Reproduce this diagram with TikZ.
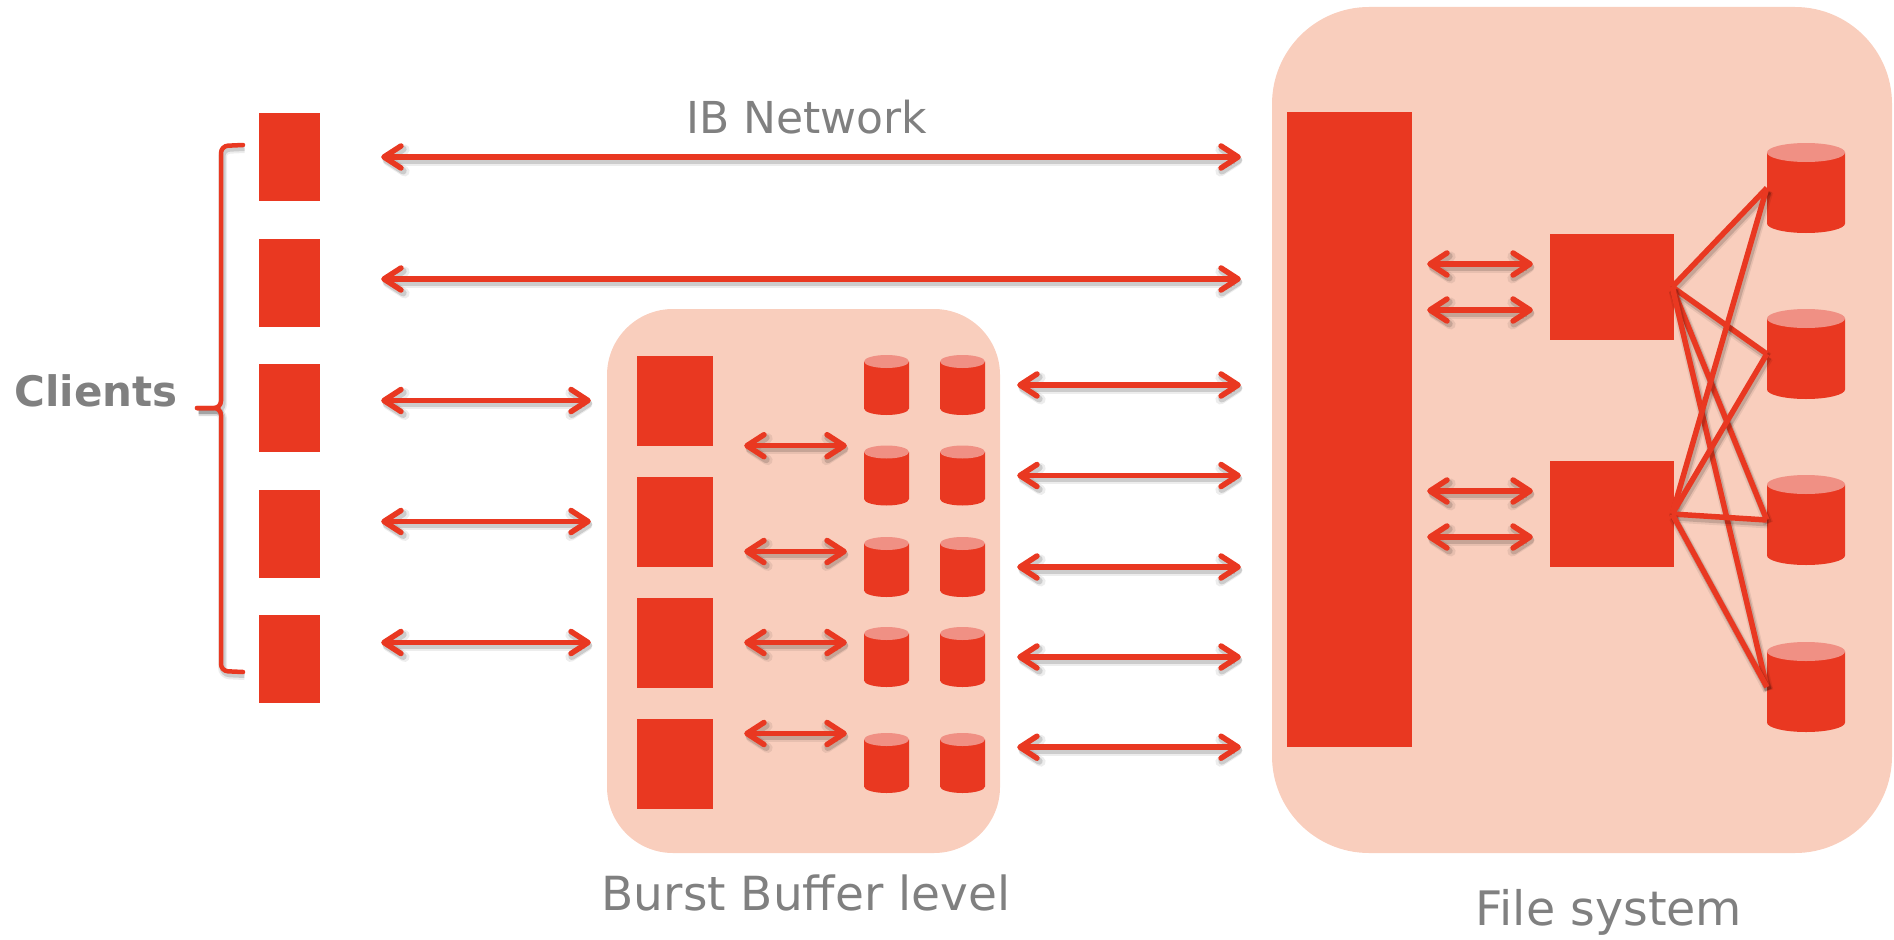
\documentclass[tikz,border=0pt]{standalone}
\usepackage{fontspec}
\setmainfont{DejaVu Sans}
\usetikzlibrary{arrows.meta,calc}

\definecolor{hpcred}{RGB}{233,56,33}
\definecolor{zonepink}{RGB}{249,206,189}
\definecolor{disktop}{RGB}{240,144,132}
\definecolor{labelgray}{RGB}{128,128,128}

\tikzset{
  barb/.tip={Straight Barb[length=17pt,width=22pt,round]},
  zone/.style={fill=zonepink, draw=none, inner sep=0pt},
  block/.style={fill=hpcred, draw=none, inner sep=0pt},
  % storage disk: width, height, radius of the end ellipses
  disk/.style n args={3}{inner sep=0pt, draw=none, minimum width=#1, minimum height=#2,
    path picture={
      \fill[hpcred] ([yshift=-#3]path picture bounding box.north west)
        -- ([yshift=#3]path picture bounding box.south west)
        arc[start angle=180, end angle=360, x radius=#1/2, y radius=#3]
        -- ([yshift=-#3]path picture bounding box.north east) -- cycle;
      \fill[disktop] ([yshift=-#3]path picture bounding box.north)
        ellipse[x radius=#1/2, y radius=#3];
    }},
  softshadow/.style={
    preaction={draw=black, draw opacity=.07, line width=#1+3pt,
      transform canvas={shift={(1.5pt,-3.5pt)}}},
    preaction={draw=black, draw opacity=.14, line width=#1,
      transform canvas={shift={(1.5pt,-3pt)}}}},
  link/.style={draw=hpcred, line width=5.5pt, softshadow=7pt},
  biarrow/.style={link, line cap=round, {barb}-{barb}},
  bracestroke/.style={draw=hpcred, line width=4.5pt, line cap=round, softshadow=6pt},
  heading/.style={text=labelgray, inner sep=0pt, anchor=base},
}

\begin{document}
\begin{tikzpicture}[x=1pt, y=-1pt]
\useasboundingbox (0,0) rectangle (1894,939);

% background zones
\node[zone, rounded corners=66pt, minimum width=393pt, minimum height=544pt] (bb) at (803.5,581) {};
\node[zone, rounded corners=97pt, minimum width=620pt, minimum height=846pt] (fs) at (1582,430) {};

% compute clients
\foreach \i/\y in {1/157, 2/282.5, 3/408, 4/533.5, 5/659}
  \node[block, minimum width=61pt, minimum height=88pt] (c\i) at (289.5,\y) {};

% burst buffer nodes
\foreach \i/\y in {1/400.5, 2/521.5, 3/642.5, 4/763.5}
  \node[block, minimum width=76pt, minimum height=90pt] (q\i) at (675,\y) {};

% burst buffer SSDs
\foreach \r/\y in {1/385, 2/475.5, 3/567, 4/657, 5/763} {
  \node[disk={45pt}{60pt}{6.5pt}] (d\r1) at (886.5,\y) {};
  \node[disk={45pt}{60pt}{6.5pt}] (d\r2) at (962.5,\y) {};
}

% file system: I/O layer, servers, disks
\node[block, minimum width=125pt, minimum height=635pt] (io) at (1349.5,429.5) {};
\node[block, minimum width=124pt, minimum height=106pt] (s1) at (1612,287) {};
\node[block, minimum width=124pt, minimum height=106pt] (s2) at (1612,514) {};
\foreach \i/\y in {1/188, 2/354, 3/520, 4/687}
  \node[disk={78pt}{90pt}{9.5pt}] (r\i) at (1806,\y) {};

% labels
\node[heading, font=\fontsize{44}{52}\selectfont] (ib) at (807,134) {IB Network};
\node[heading, font=\bfseries\fontsize{42}{50}\selectfont] (clients) at (96,406) {Clients};
\node[heading, font=\fontsize{47}{56}\selectfont] (bbl) at (806,910) {Burst Buffer level};
\node[heading, font=\fontsize{47.5}{56}\selectfont] (fsl) at (1609,925) {File system};

% clients brace
\draw[bracestroke, rounded corners=7pt] (243,145) -- (221,146) -- (221,408) -- (197,408);
\draw[bracestroke, rounded corners=7pt] (197,408) -- (221,408) -- (221,671) -- (243,672);

% clients straight to the file system
\draw[biarrow, shorten <=61pt, shorten >=31pt] (c1.east) -- (c1.east -| fs.west);
\draw[biarrow, shorten <=61pt, shorten >=31pt] ([yshift=3.5pt]c2.east) -- ([yshift=3.5pt]c2.east -| fs.west);

% clients to the burst buffer
\foreach \c/\q in {3/1, 4/2, 5/3}
  \draw[biarrow, shorten <=61pt, shorten >=16pt] (c\c.east |- q\q.west) -- (q\q.west -| bb.west);

% burst buffer nodes to their SSDs
\draw[biarrow, shorten <=31pt, shorten >=17pt] (q1.south east) -- (q1.south east -| d11.west);
\draw[biarrow, shorten <=31pt, shorten >=17pt] ([yshift=-30pt]q2.east) -- ([yshift=-30pt]q2.east -| d11.west);
\draw[biarrow, shorten <=31pt, shorten >=17pt] (q3.east) -- (q3.east -| d11.west);
\draw[biarrow, shorten <=31pt, shorten >=17pt] ([yshift=30pt]q4.east) -- ([yshift=30pt]q4.east -| d11.west);

% burst buffer to the file system
\foreach \r in {1,2,3,4}
  \draw[biarrow, shorten <=32pt, shorten >=31pt] (d\r2.east) -- (d\r2.east -| fs.west);
\draw[biarrow, shorten <=32pt, shorten >=31pt] (d52.east |- io.south) -- (io.south -| fs.west);

% I/O layer to servers
\foreach \s in {1,2} {
  \draw[biarrow, shorten <=15pt, shorten >=17pt] ([yshift=23pt]s\s.west -| io.east) -- ([yshift=23pt]s\s.west);
  \draw[biarrow, shorten <=15pt, shorten >=17pt] ([yshift=-23pt]s\s.west -| io.east) -- ([yshift=-23pt]s\s.west);
}

% servers to disks
\foreach \s in {1,2}
  \foreach \r in {1,2,3,4}
    \draw[link] ([xshift=-2pt]s\s.east) -- (r\r.west);
\end{tikzpicture}
\end{document}
